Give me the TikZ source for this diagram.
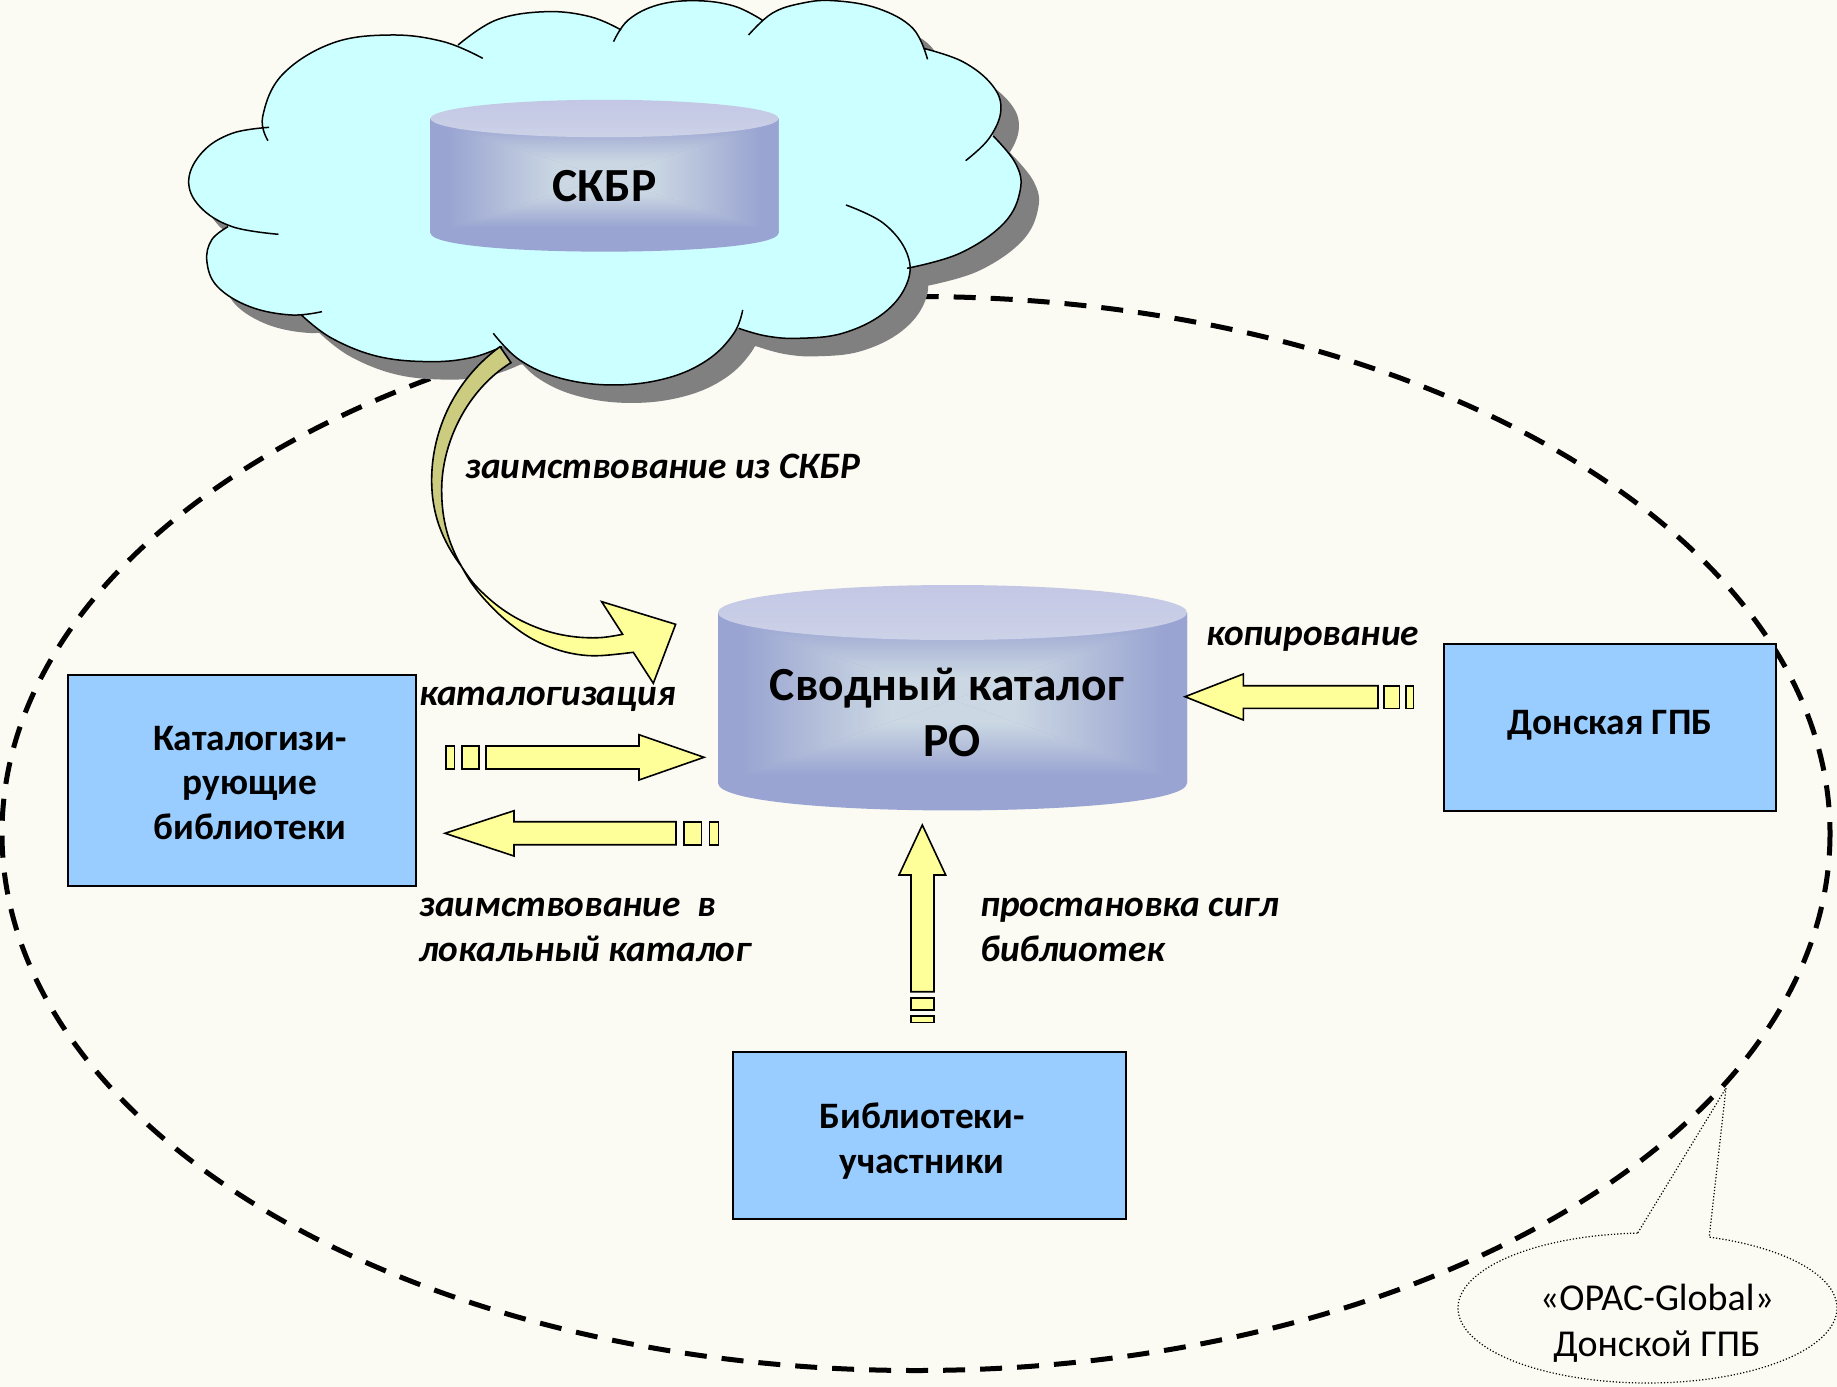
\documentclass[tikz,border=0pt]{standalone}
\usepackage{fontspec}
\setmainfont{Carlito}
\definecolor{bgc}{HTML}{FBFBF3}
\definecolor{cloudc}{HTML}{CCFFFF}
\definecolor{shadowc}{HTML}{808080}
\definecolor{boxc}{HTML}{99CCFF}
\definecolor{arrowc}{HTML}{FFFF99}
\definecolor{darkc}{HTML}{CCCC80}
\definecolor{cyledge}{HTML}{99A4D2}
\definecolor{cylmid}{HTML}{B3BEDA}
\definecolor{cyllight}{HTML}{CBD8E3}
\definecolor{cyltopa}{HTML}{C3C7E5}
\definecolor{cyltopb}{HTML}{CCD2E7}
\pgfdeclarehorizontalshading{cylL}{100bp}{color(0bp)=(cyledge); color(30bp)=(cyledge); color(46bp)=(cylmid); color(62bp)=(cyllight); color(100bp)=(cyllight)}
\pgfdeclarehorizontalshading{cylR}{100bp}{color(0bp)=(cyllight); color(38bp)=(cyllight); color(54bp)=(cylmid); color(70bp)=(cyledge); color(100bp)=(cyledge)}
\pgfdeclareverticalshading{cylB}{100bp}{color(0bp)=(cyledge); color(30bp)=(cyledge); color(46bp)=(cylmid); color(62bp)=(cyllight); color(100bp)=(cyllight)}
\pgfdeclareverticalshading{cylT}{100bp}{color(0bp)=(cyllight); color(38bp)=(cyllight); color(54bp)=(cylmid); color(70bp)=(cyledge); color(100bp)=(cyledge)}
\tikzset{
  bluebox/.style={draw=black,line width=1.5pt,fill=boxc},
  blockarrow/.style={draw=black,line width=1.6pt,fill=arrowc,line join=miter},
  boxtext/.style={align=center,font=\fontsize{37.3}{44.5}\selectfont\bfseries,inner sep=0pt},
  flowtext/.style={align=left,anchor=west,font=\fontsize{37.3}{44.5}\selectfont\bfseries\itshape,inner sep=0pt},
  cyltext/.style={align=center,font=\fontsize{47.5}{56}\selectfont\bfseries,inner sep=0pt},
  lobe/.style={smooth,tension=0.65},
}
% a cylinder with a rectangular "from centre" gradient: cx, rx, top centre y, ry, side bottom y, light centre y
\newcommand{\cylinder}[6]{%
  \pgfmathsetmacro{\xa}{#1-#2}\pgfmathsetmacro{\xb}{#1+#2}
  \pgfmathsetmacro{\ya}{#3}\pgfmathsetmacro{\yb}{#5}
  \fill[cyledge] (\xa,\ya) -- (\xa,\yb) .. controls (\xa,\yb+#4*1.33) and (\xb,\yb+#4*1.33) .. (\xb,\yb) -- (\xb,\ya) -- cycle;
  \shade[shading=cylL] (\xa,\ya) -- (#1,#6) -- (\xa,\yb) -- cycle;
  \shade[shading=cylR] (\xb,\ya) -- (#1,#6) -- (\xb,\yb) -- cycle;
  \shade[shading=cylB] (\xa,\yb) -- (#1,#6) -- (\xb,\yb) -- cycle;
  \shade[shading=cylT] (\xa,\ya) -- (#1,#6) -- (\xb,\ya) -- cycle;
  \shade[top color=cyltopa,bottom color=cyltopb] (#1,#3) ellipse [x radius=#2,y radius=#4];
}
\newcommand{\lobes}{
  plot[lobe] coordinates {(201,422) (192,350) (225,225) (310,130) (410,105) (500,125) (567,175)}
  plot[lobe] coordinates {(525,135) (590,60) (675,35) (750,50) (803,90)}
  plot[lobe] coordinates {(790,125) (815,60) (865,15) (930,2) (995,18) (1043,60)}
  plot[lobe] coordinates {(1020,105) (1060,40) (1110,10) (1165,2) (1240,25) (1300,85) (1325,178)}
  plot[lobe] coordinates {(1318,145) (1385,185) (1435,255) (1450,330) (1430,415) (1390,482)}
  plot[lobe] coordinates {(1437,408) (1475,490) (1483,570) (1455,670) (1380,760) (1290,805)}
  plot[lobe] coordinates {(1186,615) (1250,670) (1290,760) (1290,850) (1250,940) (1180,1000) (1105,1015) (1050,1008) (1003,985)}
  plot[lobe] coordinates {(1010,930) (995,1000) (950,1080) (880,1135) (790,1155) (700,1135) (630,1080) (585,1000)}
  plot[lobe] coordinates {(600,1040) (550,1072) (480,1085) (390,1070) (310,1015) (258,945)}
  plot[lobe] coordinates {(293,935) (240,945) (170,920) (115,860) (97,785) (105,720) (133,680)}
  plot[lobe] coordinates {(219,703) (140,680) (85,620) (66,540) (90,455) (140,400) (203,382)}
}
\newcommand{\cloudcore}{
  (195,385) -- (525,135) -- (803,90) -- (1043,60) -- (1320,145) -- (1437,408) -- (1290,805) -- (1003,985) -- (600,1040) -- (258,945) -- (133,680) -- cycle
}
\begin{document}
\begin{tikzpicture}[x=1pt,y=-1pt]
\useasboundingbox (0,0) rectangle (1837,1387);
\fill[bgc] (0,0) rectangle (1837,1387);

% dashed boundary of the catalogue
\draw[line width=5pt,dash pattern=on 22pt off 15pt] (916,833.5) ellipse [x radius=914,y radius=537];

% cloud
\begin{scope}[shift={(150,0)},x=0.5868pt,y=-0.3333pt]
  \begin{scope}[shift={(30.7,54)}]
    \fill[shadowc] \lobes \cloudcore;
  \end{scope}
  \fill[cloudc] \lobes \cloudcore;
  \draw[line width=1.5pt,black] \lobes;
\end{scope}

% curved arrow from the cloud
\begin{scope}[shift={(400,340)},x=0.3333pt,y=-0.3333pt]
  \filldraw[draw=black,line width=1.6pt,fill=darkc,line join=miter]
    (300,20) .. controls (150,130) and (95,290) .. (95,420)
    .. controls (95,520) and (125,600) .. (185,680)
    .. controls (145,610) and (125,540) .. (125,450)
    .. controls (125,310) and (200,150) .. (333,68) -- cycle;
  \filldraw[blockarrow]
    plot[smooth,tension=0.6] coordinates {(185,680) (215,730) (260,785) (320,843) (390,893) (460,925) (530,943) (600,947) (700,937)}
    -- (760,1030) -- (827,853) -- (605,785) -- (668,883)
    -- plot[smooth,tension=0.6] coordinates {(668,883) (600,893) (520,890) (440,873) (360,840) (290,795) (225,735) (185,680)} -- cycle;
\end{scope}

% database cylinders
\cylinder{604.5}{174}{118.5}{18.7}{233}{178}
\cylinder{952.5}{234.5}{612.5}{27.5}{783}{700}

% boxes
\path[bluebox] (68,675) rectangle (416,886);
\path[bluebox] (1444,644) rectangle (1776,811);
\path[bluebox] (733,1052) rectangle (1126,1219);

% block arrows: cataloguing
\path[blockarrow] (445.7,746) rectangle (454.3,769);
\path[blockarrow] (462,746) rectangle (478.7,769);
\path[blockarrow] (486,746) -- (639,746) -- (639,734.7) -- (704,757.3) -- (639,780) -- (639,769) -- (486,769) -- cycle;
% borrowing to the local catalogue
\path[blockarrow] (445,833.3) -- (514,810.7) -- (514,821.7) -- (676,821.7) -- (676,844.7) -- (514,844.7) -- (514,856) -- cycle;
\path[blockarrow] (683.7,821.7) rectangle (701.3,844.7);
\path[blockarrow] (709.3,821.7) rectangle (718.3,844.7);
% copying
\path[blockarrow] (1185,696.7) -- (1243.3,674) -- (1243.3,685.7) -- (1378,685.7) -- (1378,708.3) -- (1243.3,708.3) -- (1243.3,720) -- cycle;
\path[blockarrow] (1384,685.7) rectangle (1399.3,708.3);
\path[blockarrow] (1405.7,685.7) rectangle (1413.3,708.3);
% holdings
\path[blockarrow] (922.3,825) -- (945.7,875) -- (934,875) -- (934,991.7) -- (911,991.7) -- (911,875) -- (899,875) -- cycle;
\path[blockarrow] (911,997.7) rectangle (934,1010);
\path[blockarrow] (911,1015.7) rectangle (934,1022.3);

% callout
\draw[line width=1.2pt,dotted]
  plot[domain=93:431,samples=160] ({1647.5+189.5*cos(\x)},{1308-75*sin(\x)}) -- (1726,1088) -- cycle;

% texts
\node[cyltext] (skbr) at (604.5,186) {СКБР};
\node[cyltext] (svod) at (947,712) {Сводный каталог\\\hspace*{10pt}РО};
\node[boxtext] (kat) at (250,783) {Каталогизи-\\рующие\\библиотеки};
\node[boxtext] (don) at (1610,725) {Донская ГПБ};
\node[boxtext] (uch) at (922,1141) {Библиотеки-\\участники};
\node[flowtext] (l1) at (465,466) {заимствование из СКБР};
\node[flowtext] (l2) at (419,699) {каталогизация};
\node[flowtext] (l3) at (1206,639) {копирование};
\node[flowtext] (l4) at (419,930) {заимствование\ \ в\\локальный каталог};
\node[flowtext] (l5) at (980,930) {простановка сигл\\библиотек};
\node[align=center,inner sep=0pt,font=\fontsize{38}{46}\selectfont] (opac) at (1657,1323) {«OPAC-Global»\\Донской ГПБ};
\end{tikzpicture}
\end{document}
